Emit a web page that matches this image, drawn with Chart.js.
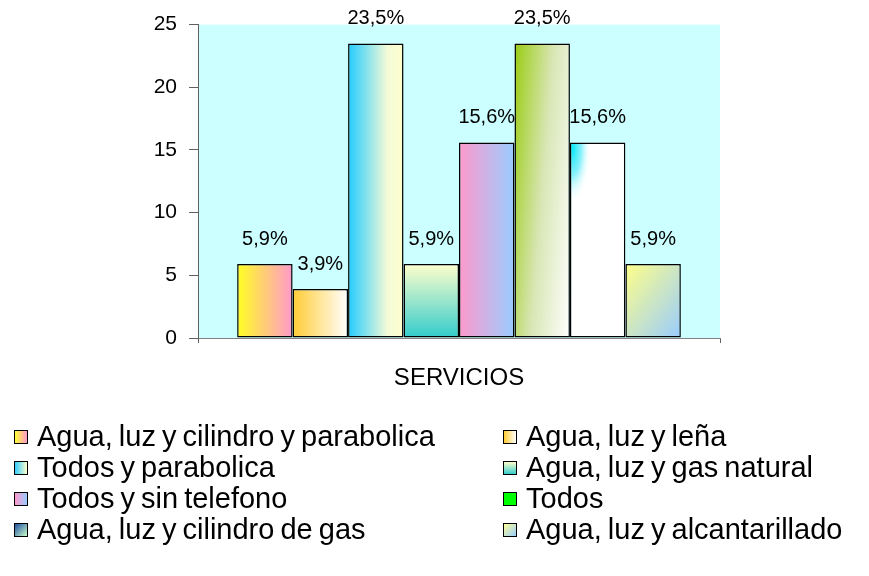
<!DOCTYPE html>
<html>
<head>
<meta charset="utf-8">
<script src="https://cdn.jsdelivr.net/npm/chart.js@4.4.1/dist/chart.umd.min.js"></script>
<style>
    html, body { margin: 0; padding: 0; background: #fff; }
    #wrap { position: relative; width: 869px; height: 576px; overflow: hidden; }
    #grafica { position: absolute; left: 0; top: 0; }
    #leyenda { position: absolute; left: 0; top: 0; font-family: 'Liberation Sans', Arial, sans-serif; font-size: 29px; word-spacing: -2px; color: #000; }
    .item { position: absolute; height: 31px; display: flex; align-items: center; white-space: nowrap; }
    .caja { width: 12px; height: 12px; border: 1.5px solid #000; margin-right: 9px; flex: none; }
</style>
</head>
<body>
<div id="wrap">
    <canvas id="grafica" width="869" height="576"></canvas>
    <div id="leyenda"></div>
</div>
<script>
    // datos
    const categorias = ['SERVICIOS'];
    const series = [
        'Agua, luz y cilindro y parabolica',
        'Agua, luz y leña',
        'Todos y parabolica',
        'Agua, luz y gas natural',
        'Todos y sin telefono',
        'Todos',
        'Agua, luz y cilindro de gas',
        'Agua, luz y alcantarillado'
    ];
    const valores = [5.9, 3.9, 23.5, 5.9, 15.6, 23.5, 15.6, 5.9];
    const ejeY = [0, 5, 10, 15, 20, 25];

    // rellenos de las barras (degradados); a/b = peso horizontal/vertical
    const rellenos = [
        { a: 1, b: 0, stops: [[0, '#FFFF22'], [1, '#FF99CC']] },
        { a: 1, b: 0, stops: [[0, '#FFCC33'], [1, '#FFFFFF']] },
        { a: 1, b: 0, stops: [[0, '#22CCFF'], [0.7, '#F2FAD8'], [1, '#FFFFCC']] },
        { a: 0, b: 1, stops: [[0, '#FFFFCC'], [1, '#33CCCC']] },
        { a: 1, b: 0, stops: [[0, '#FF99CC'], [1, '#99CCFF']] },
        { a: 0.7, b: 0.3, stops: [[0, '#99CC11'], [0.5, '#D8E6B4'], [1, '#FFFFFF']] },
        { mancha: true },
        { a: 0.5, b: 0.5, stops: [[0, '#FFFF88'], [1, '#99CCFF']] }
    ];
    const cajasLeyenda = [
        'linear-gradient(to right, #FFFF33, #FF99CC)',
        'linear-gradient(to right, #FFCC33, #FFFFFF)',
        'linear-gradient(to right, #33CCFF, #FFFFCC)',
        'linear-gradient(to bottom, #FFFFCC, #33CCCC)',
        'linear-gradient(to right, #FF99CC, #99CCFF)',
        '#00FF00',
        'linear-gradient(135deg, #1F4E9F, #CCFFCC)',
        'linear-gradient(135deg, #FFFF99, #99CCFF)'
    ];

    const degradado = (ctx, i, el) => {
        const l = el.x - el.width / 2, t = el.y;
        const w = el.width, h = el.base - el.y;
        const f = rellenos[i];
        if (f.mancha) {
            // blanco con una mancha cian arriba a la izquierda
            const off = document.createElement('canvas');
            off.width = Math.max(1, Math.ceil(w));
            off.height = Math.max(1, Math.ceil(h));
            const o = off.getContext('2d');
            o.fillStyle = '#fff';
            o.fillRect(0, 0, off.width, off.height);
            o.save();
            o.scale(1, 2.9);
            const rg = o.createRadialGradient(2, 2, 0, 2, 2, 19);
            rg.addColorStop(0, '#00E8F8');
            rg.addColorStop(0.5, 'rgba(110,238,250,0.8)');
            rg.addColorStop(1, 'rgba(255,255,255,0)');
            o.fillStyle = rg;
            o.fillRect(0, 0, 24, 24);
            o.restore();
            const p = ctx.createPattern(off, 'no-repeat');
            p.setTransform(new DOMMatrix().translate(l, t));
            return p;
        }
        const s = 1 / ((f.a * f.a) / (w * w) + (f.b * f.b) / (h * h));
        const g = ctx.createLinearGradient(l, t, l + s * f.a / w, t + s * f.b / h);
        f.stops.forEach(st => g.addColorStop(st[0], st[1]));
        return g;
    };

    const fondo = {
        id: 'fondo',
        beforeDraw(chart) {
            const { ctx, chartArea: a } = chart;
            ctx.save();
            ctx.fillStyle = '#CCFFFF';
            ctx.fillRect(a.left, a.top, a.right - a.left, a.bottom - a.top);
            ctx.restore();
        }
    };

    const etiquetas = {
        id: 'etiquetas',
        afterDatasetsDraw(chart) {
            const ctx = chart.ctx;
            ctx.save();
            ctx.font = '20px "Liberation Sans", Arial, sans-serif';
            ctx.fillStyle = '#000';
            ctx.textAlign = 'center';
            ctx.textBaseline = 'alphabetic';
            chart.data.datasets.forEach((ds, i) => {
                const el = chart.getDatasetMeta(i).data[0];
                const txt = ds.data[0].toFixed(1).replace('.', ',') + '%';
                ctx.fillText(txt, el.x, el.y - 19);
            });
            ctx.restore();
        }
    };

    const ctx = document.getElementById('grafica').getContext('2d');
    const grafica = new Chart(ctx, {
        type: 'bar',
        data: {
            labels: categorias,
            datasets: series.map((nombre, i) => ({
                label: nombre,
                data: [valores[i]],
                backgroundColor: (c) => {
                    const el = c.element;
                    if (!el || !Number.isFinite(el.x)) return '#ffffff';
                    return degradado(c.chart.ctx, i, el);
                },
                borderColor: '#000',
                borderWidth: 1.5,
                borderSkipped: false,
                barPercentage: 1,
                categoryPercentage: 0.85
            }))
        },
        options: {
            responsive: false,
            animation: false,
            layout: { padding: { left: 0, right: 149, top: 24, bottom: 178 } },
            plugins: { legend: { display: false }, tooltip: { enabled: false } },
            scales: {
                x: {
                    grid: { drawOnChartArea: false, offset: true, tickLength: 5, color: '#606060' },
                    border: { color: '#808080' },
                    ticks: { color: '#000', padding: 21, font: { family: 'Liberation Sans', size: 24 } },
                    afterFit(s) { s.height = 60; }
                },
                y: {
                    min: ejeY[0],
                    max: ejeY[ejeY.length - 1],
                    afterBuildTicks(s) { s.ticks = ejeY.map(v => ({ value: v })); },
                    grid: { drawOnChartArea: false, tickLength: 9, color: '#606060' },
                    border: { color: '#606060' },
                    ticks: { color: '#000', padding: 12, font: { family: 'Liberation Sans', size: 21 } },
                    afterFit(s) { s.width = 198; }
                }
            }
        },
        plugins: [fondo, etiquetas]
    });
    // segunda pasada para que los degradados usen la posicion de cada barra
    grafica.update();

    // leyenda en dos columnas
    const leyenda = document.getElementById('leyenda');
    series.forEach((nombre, i) => {
        const item = document.createElement('div');
        item.className = 'item';
        item.style.left = (i % 2 === 0 ? 14 : 503) + 'px';
        item.style.top = (421 + Math.floor(i / 2) * 31) + 'px';
        const caja = document.createElement('span');
        caja.className = 'caja';
        caja.style.background = cajasLeyenda[i];
        const txt = document.createElement('span');
        txt.textContent = nombre;
        item.appendChild(caja);
        item.appendChild(txt);
        leyenda.appendChild(item);
    });
</script>
</body>
</html>
